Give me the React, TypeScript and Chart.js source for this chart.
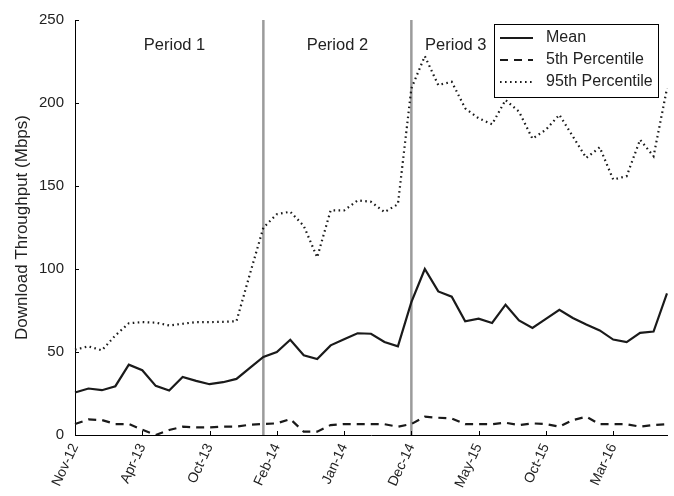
import { useEffect, useRef } from "react";
import { Chart, registerables } from "chart.js";

Chart.register(...registerables);

const categories = [
  "Nov-12", "Dec-12", "Jan-13", "Feb-13", "Mar-13", "Apr-13", "May-13", "Jun-13", "Jul-13", "Aug-13",
  "Sep-13", "Oct-13", "Nov-13", "Dec-13", "Jan-14", "Feb-14", "Mar-14", "Apr-14", "May-14", "Jun-14",
  "Jul-14", "Aug-14", "Sep-14", "Oct-14", "Nov-14", "Dec-14", "Jan-15", "Feb-15", "Mar-15", "Apr-15",
  "May-15", "Jun-15", "Jul-15", "Aug-15", "Sep-15", "Oct-15", "Nov-15", "Dec-15", "Jan-16", "Feb-16",
  "Mar-16", "Apr-16", "May-16", "Jun-16", "Jul-16",
];

const tickLabels = ["Nov-12", "Apr-13", "Oct-13", "Feb-14", "Jan-14", "Dec-14", "May-15", "Oct-15", "Mar-16"];

const meanValues = [
  25.6, 28, 27, 29.4, 42.4, 39, 29.6, 26.8, 35, 32.6, 30.6, 31.8, 33.8,
  40.4, 47, 50, 57.4, 48, 45.8, 54, 57.7, 61.3, 61, 56, 53.4,
  80, 100, 86.5, 83.3, 68.5, 70.1, 67.5, 78.5, 69, 64.5, 70, 75.4, 70.5, 66.5, 63, 57.5, 56, 61.5, 62.3, 85.3,
];

const p5Values = [
  6.6, 9.4, 9, 6.6, 6.6, 3.2, 0, 3, 5, 4.6, 4.6, 5, 5,
  6.2, 6.6, 7, 9.6, 2, 2, 6, 6.6, 6.6, 6.6, 6.5, 5,
  6.6, 11, 10.4, 10, 6.5, 6.5, 6.5, 7.4, 6, 7, 6.6, 5, 9, 11, 6.5, 6.5, 6.5, 5, 6, 6.5,
];

const p95Values = [
  51.4, 53.4, 51, 60, 67.3, 68, 67.7, 66, 67, 68, 68, 68.2, 68.5,
  97, 124.9, 133, 134.5, 126, 107, 135.3, 135.3, 141.3, 140.5, 134.3, 139,
  208.8, 228.2, 210.8, 212.8, 196.8, 190.8, 187.2, 201.8, 194.8, 178.5, 183.9, 192.9, 179.9, 166.9, 173.3, 153.9, 155.9, 177.9, 167.9, 208.8,
];

const seriesNames = ["Mean", "5th Percentile", "95th Percentile"];
const periodBounds = [14, 25];
const periodNames = ["Period 1", "Period 2", "Period 3"];
const periodAnchors = [7.4, 19.5, 28.3];

const FONT = "'Liberation Sans', Arial, Helvetica, sans-serif";
const TEXT = "#222";

export default function App() {
  const ref = useRef<HTMLCanvasElement>(null);

  useEffect(() => {
    const canvas = ref.current;
    if (!canvas) return;

    const overlay = {
      id: "overlay",
      beforeDatasetsDraw(chart: any) {
        const { ctx, chartArea, scales } = chart;
        ctx.save();
        ctx.strokeStyle = "#9b9b9b";
        ctx.lineWidth = 2.5;
        for (const i of periodBounds) {
          const x = scales.x.getPixelForValue(i);
          ctx.beginPath();
          ctx.moveTo(x, chartArea.top);
          ctx.lineTo(x, chartArea.bottom);
          ctx.stroke();
        }
        ctx.restore();
      },
      afterDraw(chart: any) {
        const { ctx, chartArea, scales } = chart;
        ctx.save();
        // inward tick marks
        ctx.strokeStyle = "#000";
        ctx.lineWidth = 1;
        scales.y.ticks.forEach((t: any) => {
          const y = Math.round(scales.y.getPixelForValue(t.value)) + 0.5;
          ctx.beginPath();
          ctx.moveTo(chartArea.left, y);
          ctx.lineTo(chartArea.left + 4, y);
          ctx.stroke();
        });
        for (let i = 0; i < categories.length; i += 5) {
          const x = Math.round(scales.x.getPixelForValue(i)) + 0.5;
          ctx.beginPath();
          ctx.moveTo(x, chartArea.bottom);
          ctx.lineTo(x, chartArea.bottom - 4);
          ctx.stroke();
        }
        // period labels
        ctx.fillStyle = TEXT;
        ctx.font = `16.5px ${FONT}`;
        ctx.textAlign = "center";
        ctx.textBaseline = "middle";
        periodNames.forEach((name, k) => {
          ctx.fillText(name, scales.x.getPixelForValue(periodAnchors[k]), 45);
        });
        // legend
        const bx = 494, by = 24, bw = 164, bh = 73;
        ctx.fillStyle = "#fff";
        ctx.fillRect(bx, by, bw, bh);
        ctx.strokeStyle = "#000";
        ctx.lineWidth = 1;
        ctx.strokeRect(bx + 0.5, by + 0.5, bw, bh);
        chart.data.datasets.forEach((ds: any, k: number) => {
          const y = by + 14 + k * 22;
          ctx.strokeStyle = ds.borderColor;
          ctx.lineWidth = ds.borderWidth;
          ctx.setLineDash(ds.borderDash || []);
          ctx.beginPath();
          ctx.moveTo(bx + 6, y);
          ctx.lineTo(bx + 39, y);
          ctx.stroke();
          ctx.setLineDash([]);
          ctx.fillStyle = TEXT;
          ctx.font = `16px ${FONT}`;
          ctx.textAlign = "left";
          ctx.textBaseline = "middle";
          ctx.fillText(ds.label, bx + 52, y);
        });
        ctx.restore();
      },
    };

    const chart = new Chart(canvas, {
      type: "line",
      data: {
        labels: categories,
        datasets: [
          {
            label: seriesNames[0],
            data: meanValues,
            borderColor: "#1a1a1a",
            borderWidth: 2.2,
            pointRadius: 0,
            tension: 0,
          },
          {
            label: seriesNames[1],
            data: p5Values,
            borderColor: "#1a1a1a",
            borderWidth: 2.2,
            borderDash: [8, 6],
            pointRadius: 0,
            tension: 0,
          },
          {
            label: seriesNames[2],
            data: p95Values,
            borderColor: "#1a1a1a",
            borderWidth: 2.2,
            borderDash: [1.6, 3.4],
            pointRadius: 0,
            tension: 0,
          },
        ],
      },
      options: {
        animation: false,
        responsive: false,
        layout: { padding: { top: 17, right: 7, left: 0, bottom: 0 } },
        plugins: {
          legend: { display: false },
          tooltip: { enabled: false },
        },
        scales: {
          x: {
            type: "category",
            offset: false,
            grid: { display: false, drawTicks: false },
            border: { display: true, color: "#000", width: 1 },
            ticks: {
              autoSkip: false,
              maxRotation: 65,
              minRotation: 65,
              padding: 6,
              color: TEXT,
              font: { family: FONT, size: 14 },
              callback: (_v: any, index: number) => (index % 5 === 0 ? tickLabels[index / 5] : ""),
            },
            afterFit: (s: any) => {
              s.height = 61;
              s.paddingRight = 0;
              s.paddingLeft = 0;
            },
          },
          y: {
            min: 0,
            max: 250,
            grid: { display: false, drawTicks: false },
            border: { display: true, color: "#000", width: 1 },
            ticks: {
              stepSize: 50,
              padding: 11,
              color: TEXT,
              font: { family: FONT, size: 15 },
            },
            title: {
              display: true,
              text: "Download Throughput (Mbps)",
              color: TEXT,
              font: { family: FONT, size: 17 },
              padding: { top: 12, bottom: 0 },
            },
            afterFit: (s: any) => {
              s.width = 75;
            },
          },
        },
      },
      plugins: [overlay],
    });

    return () => chart.destroy();
  }, []);

  return (
    <div style={{ position: "absolute", left: 0, top: 0, width: 674, height: 496, background: "#fff" }}>
      <canvas ref={ref} width={674} height={496} style={{ width: 674, height: 496 }} />
    </div>
  );
}
